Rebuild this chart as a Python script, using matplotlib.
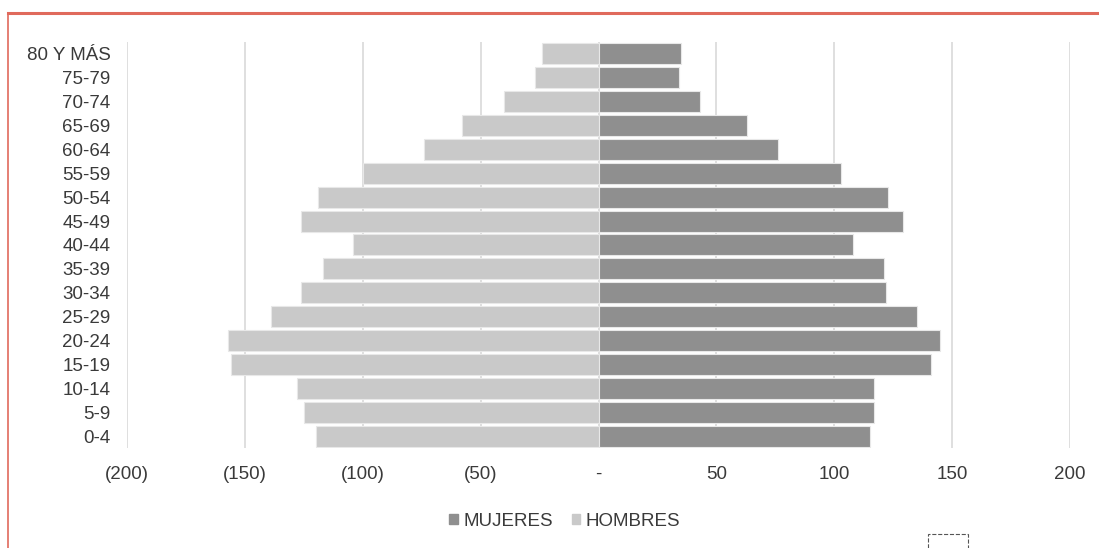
import matplotlib
matplotlib.use("Agg")
from matplotlib import pyplot as plt
from matplotlib import ticker
from matplotlib.patches import Rectangle
from matplotlib.lines import Line2D

# grupos de edad, de abajo hacia arriba
grupos = ["0-4", "5-9", "10-14", "15-19", "20-24", "25-29", "30-34", "35-39",
          "40-44", "45-49", "50-54", "55-59", "60-64", "65-69", "70-74",
          "75-79", "80 Y MÁS"]
hombres = [120, 125, 128, 156, 157, 139, 126, 117, 104, 126, 119, 100, 74, 58, 40, 27, 24]
mujeres = [115, 117, 117, 141, 145, 135, 122, 121, 108, 129, 123, 103, 76, 63, 43, 34, 35]
ticks = [-200, -150, -100, -50, 0, 50, 100, 150, 200]

plt.rcParams['font.family'] = ['Liberation Sans', 'DejaVu Sans']
texto = '#3a3a3a'

fig = plt.figure(figsize=(10.99, 5.48), dpi=100)
ax = fig.add_axes([0.1156, 0.1825, 0.858, 0.741])

pos = list(range(len(grupos)))
ax.barh(pos, [-h for h in hombres], height=0.88, color='#c9c9c9',
        edgecolor='#e8e8e8', linewidth=0.8, label='HOMBRES', zorder=3)
ax.barh(pos, mujeres, height=0.88, color='#8f8f8f',
        edgecolor='#e8e8e8', linewidth=0.8, label='MUJERES', zorder=3)

ax.set_xlim(-200, 200)
ax.set_ylim(-0.5, len(grupos) - 0.5)
ax.set_yticks(pos)
ax.set_yticklabels(grupos)
ax.set_xticks(ticks)


def fmt(v, p):
    if v == 0:
        return '-'
    if v < 0:
        return '(%d)' % abs(v)
    return '%d' % v


ax.xaxis.set_major_formatter(ticker.FuncFormatter(fmt))
ax.tick_params(axis='both', length=0, labelsize=13.5, colors=texto)
ax.tick_params(axis='y', pad=12)
ax.tick_params(axis='x', pad=13)
ax.grid(axis='x', color='#d9d9d9', linewidth=1.2, zorder=0)
for s in ax.spines.values():
    s.set_visible(False)

handles = [Rectangle((0, 0), 1, 1, color='#8f8f8f'), Rectangle((0, 0), 1, 1, color='#c9c9c9')]
fig.legend(handles, ['MUJERES', 'HOMBRES'], loc='center', bbox_to_anchor=(0.514, 0.049),
           ncol=2, frameon=False, fontsize=13.5, labelcolor=texto,
           handlelength=0.45, handleheight=0.45, handletextpad=0.3, columnspacing=1.0)

# marco rojo del recorte
fig.add_artist(Line2D([8 / 1099, 1], [1 - 13 / 548, 1 - 13 / 548], color='#e06a5c', linewidth=2.2))
fig.add_artist(Line2D([8 / 1099, 8 / 1099], [0, 1 - 13 / 548], color='#e06a5c', linewidth=1.2))
fig.add_artist(Rectangle((928 / 1099, -0.01), 40 / 1099, 0.035, fill=False,
                         edgecolor='#555555', linewidth=0.8, linestyle='--'))

fig.savefig('out.png', dpi=100)
